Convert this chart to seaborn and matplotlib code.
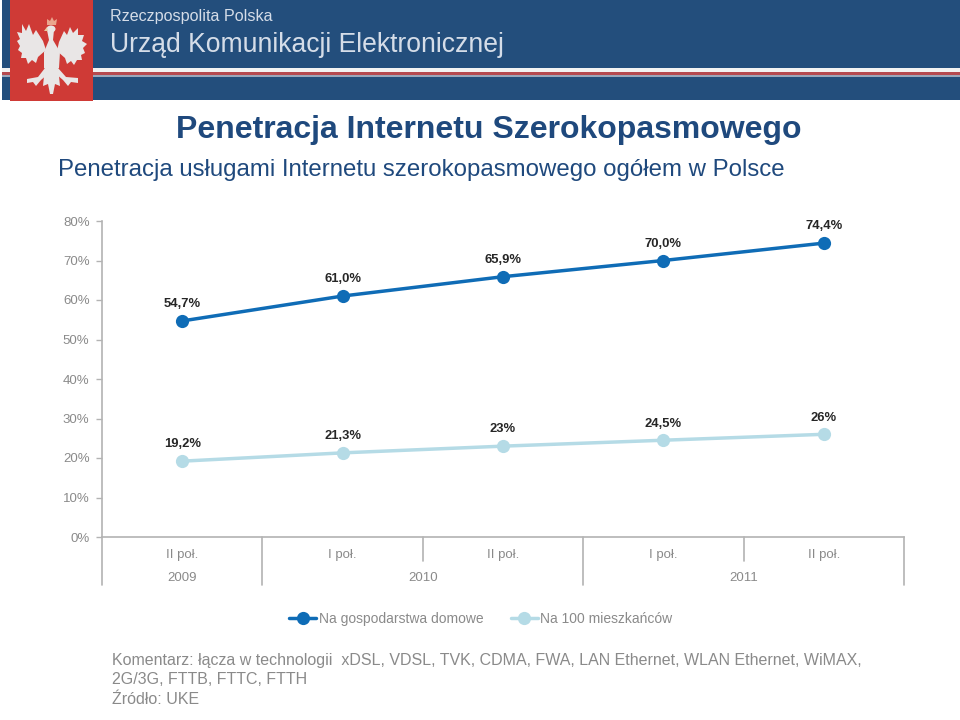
import pandas as pd
import matplotlib
matplotlib.use("Agg")
import matplotlib.pyplot as plt
from matplotlib.patches import Rectangle, Polygon, Ellipse
import seaborn as sns

okresy = [0, 1, 2, 3, 4]
polrocza = ["II poł.", "I poł.", "II poł.", "I poł.", "II poł."]
gospodarstwa = [54.7, 61.0, 65.9, 70.0, 74.4]
mieszkancy = [19.2, 21.3, 23, 24.5, 26]
etyk_gosp = ["54,7%", "61,0%", "65,9%", "70,0%", "74,4%"]
etyk_miesz = ["19,2%", "21,3%", "23%", "24,5%", "26%"]
lata = ["2009", "2010", "2011"]
srodki_lat = [0, 1.5, 3.5]
podzialy_dlugie = [-0.5, 0.5, 2.5, 4.5]
podzialy_krotkie = [1.5, 3.5]
y_ticks = [0, 10, 20, 30, 40, 50, 60, 70, 80]
nazwa_1 = "Na gospodarstwa domowe"
nazwa_2 = "Na 100 mieszkańców"

sns.set_theme(style="white")
plt.rcParams["font.family"] = ["Liberation Sans", "DejaVu Sans"]

GREY = "#8a8a8a"
AXIS = "#b3b3b3"
W, H = 960, 720

fig = plt.figure(figsize=(9.6, 7.2), dpi=100)

# naglowek w pikselach
bg = fig.add_axes([0, 0, 1, 1])
bg.set_xlim(0, W)
bg.set_ylim(H, 0)
bg.axis("off")
bg.add_patch(Rectangle((2, 0), W - 2, 100, color="#234e7c", lw=0))
bg.add_patch(Rectangle((2, 68), W - 2, 4, color="#f2f2f2", lw=0))
bg.add_patch(Rectangle((2, 72), W - 2, 3, color="#b5494f", lw=0))
bg.add_patch(Rectangle((2, 75), W - 2, 2, color="#9aa7bb", lw=0))
bg.add_patch(Rectangle((10, 0), 83, 101, color="#cf3a36", lw=0))

# orzel (uproszczony)
orzel = "#e9e6e6"
lewe = [(43, 41), (36, 30), (33, 35), (29, 24), (26, 31), (22, 24), (22, 33), (17, 32), (20, 39), (17, 41), (20, 46),
        (18, 50), (22, 53), (21, 58), (26, 58), (28, 64), (32, 60), (36, 63), (38, 57), (46, 50)]
prawe = [(59, 42), (64, 31), (67, 35), (70, 27), (73, 33), (78, 28), (78, 35), (84, 35), (82, 41), (87, 44), (83, 48),
         (85, 53), (81, 55), (82, 60), (77, 60), (74, 65), (71, 61), (67, 64), (65, 58), (57, 51)]
bg.add_patch(Polygon(lewe, color=orzel, lw=0))
bg.add_patch(Polygon(prawe, color=orzel, lw=0))
bg.add_patch(Polygon([(47, 30), (54, 30), (53, 40), (60, 52), (59, 68), (44, 68), (44, 52), (49, 40)], color=orzel, lw=0))
bg.add_patch(Ellipse((51, 29), 9, 7, color=orzel, lw=0))
bg.add_patch(Polygon([(45, 66), (58, 66), (60, 86), (55, 84), (53, 94), (50, 94), (48, 84), (43, 86)], color=orzel, lw=0))
bg.add_patch(Polygon([(45, 68), (38, 77), (27, 79), (27, 83), (33, 82), (36, 86), (41, 80), (48, 74)], color=orzel, lw=0))
bg.add_patch(Polygon([(58, 68), (66, 77), (78, 78), (78, 83), (71, 82), (68, 86), (63, 80), (56, 74)], color=orzel, lw=0))
bg.add_patch(Polygon([(47, 25), (47, 19), (50, 21), (52, 17), (54, 21), (57, 19), (56, 25)], color="#eaa58e", lw=0))
bg.add_patch(Polygon([(47, 27), (44, 31), (48, 31)], color="#e8c9a0", lw=0))

bg.text(110, 16, "Rzeczpospolita Polska", fontsize=11.6, color="#d5dde8", va="center", ha="left")
bg.text(110, 45, "Urząd Komunikacji Elektronicznej", fontsize=19.1, color="#d5dde8", va="center", ha="left")

bg.text(488.5, 130, "Penetracja Internetu Szerokopasmowego", fontsize=23, fontweight="bold",
        color="#1f497d", va="center", ha="center")
bg.text(58, 170, "Penetracja usługami Internetu szerokopasmowego ogółem w Polsce", fontsize=17.27,
        color="#1f497d", va="center", ha="left")

for i, linia in enumerate(["Komentarz: łącza w technologii  xDSL, VDSL, TVK, CDMA, FWA, LAN Ethernet, WLAN Ethernet, WiMAX,",
                           "2G/3G, FTTB, FTTC, FTTH", "Źródło: UKE"]):
    bg.text(112, 660 + i * 19.5, linia, fontsize=11.5, color=GREY, va="center", ha="left")

# wykres
ax = fig.add_axes([102 / W, 1 - 537 / H, 802 / W, 316 / H])
ax.patch.set_alpha(0)

df = pd.DataFrame({
    "okres": okresy + okresy,
    "wartosc": gospodarstwa + mieszkancy,
    "seria": [nazwa_1] * 5 + [nazwa_2] * 5,
})
sns.lineplot(data=df, x="okres", y="wartosc", hue="seria", ax=ax,
             palette={nazwa_1: "#0f6cb6", nazwa_2: "#b5dbe6"},
             marker="o", markersize=9.5, markeredgewidth=0, linewidth=2.5)

ax.set_xlim(-0.5, 4.5)
ax.set_ylim(0, 80)
ax.set_xlabel("")
ax.set_ylabel("")
ax.set_yticks(y_ticks)
ax.set_yticklabels([f"{v}%" for v in y_ticks], fontsize=9.5, color=GREY)
ax.tick_params(axis="y", left=True, length=4, width=1, color=AXIS, pad=5)
ax.set_xticks(okresy)
ax.set_xticklabels(polrocza, fontsize=9.5, color=GREY)
ax.tick_params(axis="x", bottom=False, length=0, pad=8.5)

for s in ["top", "right"]:
    ax.spines[s].set_visible(False)
for s in ["left", "bottom"]:
    ax.spines[s].set_color(AXIS)
    ax.spines[s].set_linewidth(1.2)

for x, y, t in zip(okresy, gospodarstwa, etyk_gosp):
    ax.annotate(t, (x, y), xytext=(0, 12), textcoords="offset points", ha="center", va="center",
                fontsize=9.4, fontweight="bold", color="#262626")
for x, y, t in zip(okresy, mieszkancy, etyk_miesz):
    ax.annotate(t, (x, y), xytext=(0, 12), textcoords="offset points", ha="center", va="center",
                fontsize=9.4, fontweight="bold", color="#262626")

# podzialy osi pod wykresem
tr = ax.get_xaxis_transform()
for x in podzialy_dlugie:
    ax.plot([x, x], [0, -48 / 316], transform=tr, clip_on=False, color=AXIS, lw=1.2)
for x in podzialy_krotkie:
    ax.plot([x, x], [0, -24 / 316], transform=tr, clip_on=False, color=AXIS, lw=1.2)
for x, t in zip(srodki_lat, lata):
    ax.text(x, -41 / 316, t, transform=tr, ha="center", va="center", fontsize=9.5, color=GREY)

h, l = ax.get_legend_handles_labels()
ax.legend(h, l, loc="center left", bbox_to_anchor=(289 / W, 1 - 619 / H), bbox_transform=fig.transFigure,
          ncol=2, frameon=False, fontsize=10, labelcolor=GREY, handlelength=1.95, handletextpad=0.2,
          columnspacing=1.95, borderpad=0, borderaxespad=0)

fig.savefig("out.png", dpi=100)
